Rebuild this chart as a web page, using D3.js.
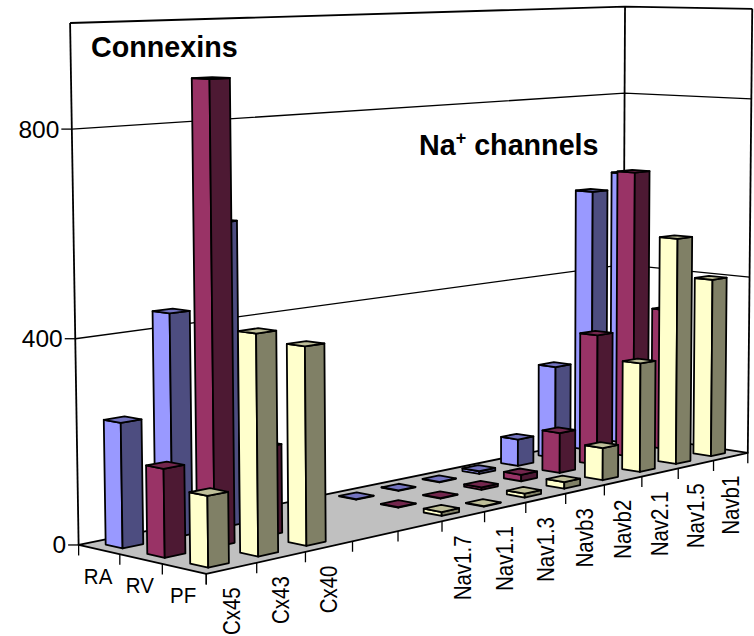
<!DOCTYPE html>
<html><head><meta charset="utf-8">
<script src="https://cdn.jsdelivr.net/npm/d3@7"></script>
<style>html,body{margin:0;padding:0;background:#fff}svg{display:block}text{font-family:"Liberation Sans",Arial,sans-serif;fill:#000}</style>
</head><body><svg id="c" width="754" height="636"></svg>
<script>
const categories=["Cx45","Cx43","Cx40","gap1","gap2","Nav1.7","Nav1.1","Nav1.3","Navb3","Navb2","Nav2.1","Nav1.5","Navb1"];
const categoryLabels=["Cx45","Cx43","Cx40","","","Nav1.7","Nav1.1","Nav1.3","Navb3","Navb2","Nav2.1","Nav1.5","Navb1"];
const seriesNames=["RA","RV","PF"];
const raValues=[243,440,606,null,null,1,1,1,6,59,206,590,623];
const rvValues=[170,895,176,null,null,1,1,5,14,88,289,640,319];
const pfValues=[135,424,386,null,null,8,1,8,14,70,239,501,399];
const yTicks=[0,400,800];
const yMax=1000;
const baseColors=["#9999ff","#993366","#ffffcc"];
const topColors=["#7373bf","#73264d","#bfbf99"];
const darkColors=["#4d4d80","#4d1933","#808066"];

// camera calibration anchors: [u, w, v, screenX, screenY]
const frontX=[205,257,306,353,398,442,485,526,566,604,641,678,713,747];
const frontY=[575,565,553,542,532,521,512,502,493,484,476,468,459,451];
const calib=[
 [0,0,0,79,543],
 [0,1/3,0,120,553],[0,2/3,0,162,564],
 [1,0,0,624,438],
 [0,0,.4,75,337],[0,0,.8,72,129],[0,0,1,70,24],
 [1,0,.4,624,265],[1,0,.8,624,92],[1,0,1,624,6],
 [1,1,.4,750,277],[1,1,.8,752,99],[1,1,1,753,10]
].concat(frontX.map((x,i)=>[i/13,1,0,x,frontY[i]]));

function solveN(A,b){const n=b.length,M=A.map((r,i)=>[...r,b[i]]);
 for(let i=0;i<n;i++){let p=i;for(let r=i+1;r<n;r++)if(Math.abs(M[r][i])>Math.abs(M[p][i]))p=r;[M[i],M[p]]=[M[p],M[i]];
  for(let r=0;r<n;r++)if(r!==i){const k=M[r][i]/M[i][i];for(let c=i;c<=n;c++)M[r][c]-=k*M[i][c];}}
 return M.map((r,i)=>r[n]/r[i]);}
const cam=(function(){const rows=[],rhs=[];
 calib.forEach(([u,w,v,x,y])=>{
  rows.push([u,w,v,1,0,0,0,0,-x*u,-x*w,-x*v]);rhs.push(x);
  rows.push([0,0,0,0,u,w,v,1,-y*u,-y*w,-y*v]);rhs.push(y);});
 const n=11,A=d3.range(n).map(i=>d3.range(n).map(j=>d3.sum(rows,r=>r[i]*r[j])));
 const b=d3.range(n).map(i=>d3.sum(rows,(r,k)=>r[i]*rhs[k]));
 return solveN(A,b);})();
function project(u,w,v){const z=cam[8]*u+cam[9]*w+cam[10]*v+1;
 return [(cam[0]*u+cam[1]*w+cam[2]*v+cam[3])/z,(cam[4]*u+cam[5]*w+cam[6]*v+cam[7])/z];}

const uScale=d3.scaleBand().domain(categories).range([0,1]);
const wScale=d3.scaleBand().domain(seriesNames).range([0,1]);
const vScale=d3.scaleLinear().domain([0,yMax]).range([0,1]);
const svg=d3.select("#c");
const path=d3.line();
const closed=pts=>path(pts)+"Z";
const LW=1.8;
const poly=(g,pts,fill)=>g.append("path").attr("d",closed(pts)).attr("fill",fill).attr("stroke","#000").attr("stroke-width",LW).attr("stroke-linejoin","round");
const seg=(g,a,b,w)=>g.append("path").attr("d",path([a,b])).attr("stroke","#000").attr("stroke-width",w||LW).attr("fill","none");

// walls
const walls=svg.append("g");
seg(walls,project(0,0,0),project(0,0,1));
seg(walls,project(1,0,0),project(1,0,1));
seg(walls,project(1,1,0),project(1,1,1));
walls.append("path").attr("d",path([project(0,0,1),project(1,0,1),project(1,1,1)])).attr("fill","none").attr("stroke","#000").attr("stroke-width",LW);
yTicks.filter(t=>t>0).forEach(t=>{const v=vScale(t);
 walls.append("path").attr("d",path([project(0,0,v),project(1,0,v),project(1,1,v)])).attr("fill","none").attr("stroke","#000").attr("stroke-width",1.3);});
// floor
poly(svg.append("g"),[project(0,0,0),project(1,0,0),project(1,1,0),project(0,1,0)],"#c0c0c0");

// value axis
const axisG=svg.append("g");
yTicks.forEach(t=>{const p=project(0,0,vScale(t));
 seg(axisG,[p[0]-10.5,p[1]],p,1.3);
 axisG.append("text").attr("x",p[0]-12.5).attr("y",p[1]+8.5).attr("text-anchor","end").attr("font-size",24.5).text(t);});

// floor ticks and labels
const tickG=svg.append("g");
const TL=10.5;
seriesNames.forEach((s,i)=>{const a=wScale(s),m=a+wScale.bandwidth()/2;
 if(i===0){const p=project(0,a,0);seg(tickG,p,[p[0],p[1]+TL],1.3);}
 const p=project(0,a+wScale.bandwidth(),0);seg(tickG,p,[p[0],p[1]+TL],1.3);
 const c=project(0,m,0);
 tickG.append("text").attr("transform",`translate(${c[0]-1},${c[1]+34}) scale(1,1.1)`).attr("text-anchor","middle").attr("font-size",20.5).text(s);});
categories.forEach((c,i)=>{const a=uScale(c),p=project(a+uScale.bandwidth(),1,0);
 seg(tickG,p,[p[0],p[1]+TL],1.3);
 const m=project(a+uScale.bandwidth()/2,1,0);
 if(categoryLabels[i]) tickG.append("text").attr("transform",`translate(${m[0]+8},${m[1]+19}) rotate(-90) scale(1,1.15)`).attr("text-anchor","end").attr("font-size",20.5).text(categoryLabels[i]);});
{const p=project(0,1,0);seg(tickG,p,[p[0],p[1]+TL],1.3);}

// bars
const seriesValues=[raValues,rvValues,pfValues];
const bars=[];
seriesValues.forEach((vals,si)=>vals.forEach((val,ci)=>{if(val!==null)bars.push({si,ci,val});}));
bars.sort((a,b)=>a.si-b.si||b.ci-a.ci);
const barFrac=0.41;
const barG=svg.append("g").selectAll("g").data(bars).join("g");
barG.each(function(d){const g=d3.select(this);
 const bu=uScale.bandwidth(),bw=wScale.bandwidth();
 const uc=uScale(categories[d.ci])+bu/2,wc=wScale(seriesNames[d.si])+bw/2;
 const u0=uc-bu*barFrac/2,u1=uc+bu*barFrac/2,w0=wc-bw*barFrac/2,w1=wc+bw*barFrac/2,v=vScale(d.val);
 poly(g,[project(u0,w1,0),project(u0,w0,0),project(u0,w0,v),project(u0,w1,v)],baseColors[d.si]);
 poly(g,[project(u0,w1,0),project(u1,w1,0),project(u1,w1,v),project(u0,w1,v)],darkColors[d.si]);
 poly(g,[project(u0,w0,v),project(u1,w0,v),project(u1,w1,v),project(u0,w1,v)],topColors[d.si]);
});

// annotations
svg.append("text").attr("x",91).attr("y",57).attr("font-size",28.7).attr("font-weight","bold").text("Connexins");
const na=svg.append("text").attr("x",419).attr("y",155).attr("font-size",28.7).attr("font-weight","bold");
na.append("tspan").text("Na");
na.append("tspan").attr("font-size",18).attr("dy",-11).text("+");
na.append("tspan").attr("dy",11).text(" channels");
</script></body></html>
